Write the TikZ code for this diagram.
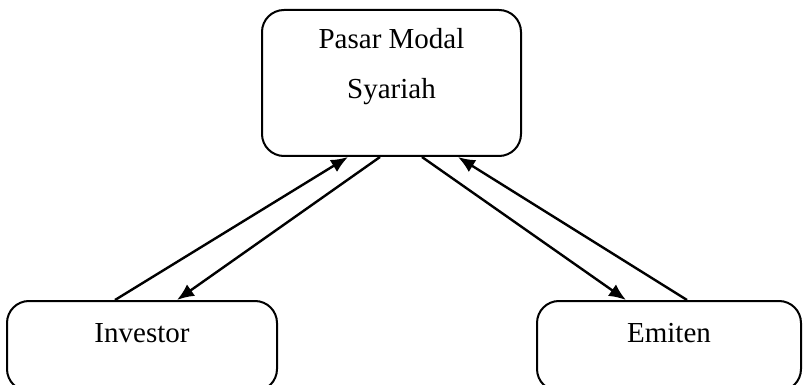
\documentclass[tikz,border=0pt]{standalone}
\usepackage{fontspec}
\setmainfont{Liberation Serif}
\usetikzlibrary{arrows.meta}

\begin{document}
\begin{tikzpicture}[x=1pt,y=-1pt,box/.style={draw,rounded corners=22pt,line width=2pt,inner sep=0pt},label/.style={align=center,font=\fontsize{29}{50}\selectfont},link/.style={line width=2.4pt,-{Latex[length=17pt,width=14pt]}}]
\useasboundingbox (0,0) rectangle (804,385);
\node[box,minimum width=259pt,minimum height=146pt] (pasar) at (391.5,83) {};
\node[box,minimum width=270pt,minimum height=90pt] (investor) at (142,346) {};
\node[box,minimum width=264pt,minimum height=90pt] (emiten) at (669,346) {};
\node[label] (pasarT) at (391.5,67) {Pasar Modal\\Syariah};
\node[label] (investorT) at (142,333) {Investor};
\node[label] (emitenT) at (669,333) {Emiten};
\draw[link] ([xshift=-27pt]investor.north) -- ([xshift=-43.5pt]pasar.south);
\draw[link] ([xshift=-11.5pt]pasar.south) -- ([xshift=35pt]investor.north);
\draw[link] ([xshift=30.5pt]pasar.south) -- ([xshift=-43pt]emiten.north);
\draw[link] ([xshift=18pt]emiten.north) -- ([xshift=66.5pt]pasar.south);
\end{tikzpicture}
\end{document}
